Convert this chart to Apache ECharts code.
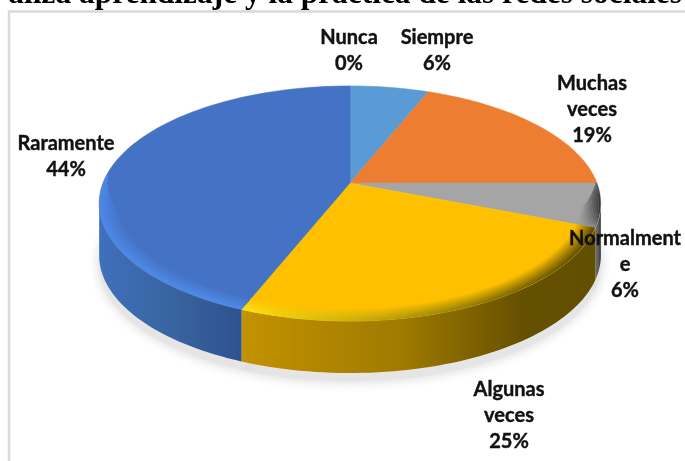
<!DOCTYPE html>
<html>
<head>
<meta charset="utf-8">
<style>
html,body{margin:0;padding:0;background:#fff}
#main{width:685px;height:461px}
</style>
<script src="https://cdn.jsdelivr.net/npm/echarts@6/dist/echarts.min.js"></script>
</head>
<body>
<div id="main"></div>
<script>
var categories = ['Nunca', 'Siempre', 'Muchas\nveces', 'Normalment\ne', 'Algunas\nveces', 'Raramente'];
var values = [0, 6, 19, 6, 25, 44];

var faceColors = ['#5b9bd5', '#5b9bd5', '#ed7d31', '#a5a5a5', '#ffc000', '#4472c4'];
// wall shading, left to right
var wallStops = [
    [[0, '#5b9bd5'], [1, '#5b9bd5']],
    [[0, '#5b9bd5'], [1, '#5b9bd5']],
    [[0, '#ed7d31'], [1, '#ed7d31']],
    [[0, '#6e6e6e'], [0.6, '#5a5a5a'], [1, '#2e2e2e']],
    [[0, '#c29200'], [0.45, '#a07a00'], [0.8, '#655000'], [1, '#615000']],
    [[0, '#3f70bd'], [0.5, '#38649f'], [1, '#2f528f']]
];
// colour of the bevel on the edge of the top face, left and right end
var bevelColors = [
    ['#5b9bd5', '#5b9bd5'],
    ['#5b9bd5', '#5b9bd5'],
    ['#ed7d31', '#ed7d31'],
    ['#8a8a8a', '#3a3a3a'],
    ['#ffdf10', '#5f4b00'],
    ['#4d88e6', '#4f88e4']
];
var labelCenters = [[349, 51], [437, 51], [592, 110], [625, 265], [509, 416], [66, 157]];

// pie geometry: a circle seen in perspective
var apexX = 350, apexY = 183, radiusX = 247, radiusY = 114, persp = 0.174, depth = 52;
var wallFrom = 100, wallTo = 260;
var bevelSteps = 10;

var total = values.reduce(function (a, b) { return a + b }, 0);
var starts = [];
values.reduce(function (sum, v, i) { starts[i] = sum; return sum + v }, 0);
var seriesData = values.map(function (v, i) { return [starts[i], v, i] });

function project(deg, r, dy) {
    var a = deg * Math.PI / 180;
    var u = Math.sin(a) * r, v = Math.cos(a) * r;
    var d = 1 + persp * v;
    return [apexX + radiusX * u / d, apexY - radiusY * v / d + (dy || 0)];
}
function arc(from, to, r, dy) {
    var pts = [];
    var n = Math.max(2, Math.ceil((to - from) / 1.5));
    for (var i = 0; i <= n; i++) {
        pts.push(project(from + (to - from) * i / n, r, dy));
    }
    return pts;
}
function angles(api) {
    var from = api.value(0) / total * 360;
    return [from, from + api.value(1) / total * 360];
}
function mix(c1, c2, t) {
    var a = parseInt(c1.slice(1), 16), b = parseInt(c2.slice(1), 16);
    var out = [16, 8, 0].map(function (s) {
        return Math.round(((a >> s) & 255) * (1 - t) + ((b >> s) & 255) * t);
    });
    return 'rgb(' + out.join(',') + ')';
}
function xRange(pts) {
    var xs = pts.map(function (p) { return p[0] });
    return [Math.min.apply(null, xs), Math.max.apply(null, xs)];
}

function renderShadow(params, api) {
    var from = angles(api);
    if (from[1] <= from[0]) return null;
    return {
        type: 'polygon',
        shape: {points: arc(from[0], from[1], 1, depth + 8).concat([[apexX, apexY + depth + 8]])},
        style: {fill: '#e6e6e6', stroke: '#e6e6e6', lineWidth: 1, shadowBlur: 12, shadowColor: '#d8d8d8'}
    };
}

function renderWall(params, api) {
    var ang = angles(api);
    var from = Math.max(ang[0], wallFrom), to = Math.min(ang[1], wallTo);
    if (to <= from) return null;
    var i = api.value(2);
    var top = arc(from, to, 1, 0);
    var bottom = arc(from, to, 1, depth).reverse();
    var range = xRange(top);
    return {
        type: 'polygon',
        shape: {points: top.concat(bottom)},
        style: {
            fill: new echarts.graphic.LinearGradient(range[0], 0, range[1], 0,
                wallStops[i].map(function (s) { return {offset: s[0], color: s[1]} }), true)
        }
    };
}

function renderFace(params, api) {
    var ang = angles(api);
    if (ang[1] <= ang[0]) return null;
    var i = api.value(2);
    return {
        type: 'polygon',
        shape: {points: [[apexX, apexY]].concat(arc(ang[0], ang[1], 1, 0))},
        style: {fill: faceColors[i], stroke: faceColors[i], lineWidth: 0.5}
    };
}

function renderBevel(params, api) {
    var ang = angles(api);
    var i = api.value(2);
    var children = [];
    for (var k = 0; k < bevelSteps; k++) {
        var t = (k + 1) / bevelSteps;
        var r = 0.925 + 0.07 * t;
        // inner rings stop sooner at both ends so the band tapers off
        var from = Math.max(ang[0], 104 - 14 * t), to = Math.min(ang[1], 252 + 22 * t);
        if (to <= from) continue;
        var pts = arc(from, to, r, 0);
        var range = xRange(pts);
        children.push({
            type: 'polyline',
            shape: {points: pts},
            style: {
                fill: null,
                lineWidth: 2.2,
                stroke: new echarts.graphic.LinearGradient(range[0], 0, range[1], 0, [
                    {offset: 0, color: mix(faceColors[i], bevelColors[i][0], t)},
                    {offset: 1, color: mix(faceColors[i], bevelColors[i][1], t)}
                ], true)
            }
        });
    }
    return {type: 'group', children: children};
}

function renderLabel(params, api) {
    var i = api.value(2);
    var c = labelCenters[i];
    return {
        type: 'text',
        x: c[0],
        y: c[1],
        style: {
            text: categories[i] + '\n' + api.value(1) + '%',
            fill: '#111111',
            stroke: '#111111',
            lineWidth: 0.4,
            font: 'bold 20px Lato, Carlito, sans-serif',
            lineHeight: 26,
            align: 'center',
            verticalAlign: 'middle'
        }
    };
}

function customSeries(fn, z) {
    return {type: 'custom', coordinateSystem: 'none', renderItem: fn, data: seriesData, z: z, silent: true, animation: false};
}

var chart = echarts.init(document.getElementById('main'), null, {renderer: 'canvas'});
chart.setOption({
    animation: false,
    backgroundColor: '#ffffff',
    title: {
        text: 'aliza aprendizaje y la práctica de las redes sociales',
        right: 3,
        top: -21,
        padding: 0,
        textStyle: {fontFamily: '"Liberation Serif", serif', fontWeight: 'bold', fontSize: 31.4, color: '#000000'}
    },
    graphic: [{
        type: 'polyline',
        shape: {points: [[9, 461], [9, 11.5], [685, 11.5]]},
        style: {fill: null, stroke: '#d9d9d9', lineWidth: 2.5},
        silent: true
    }],
    series: [
        customSeries(renderShadow, 1),
        customSeries(renderWall, 2),
        customSeries(renderFace, 3),
        customSeries(renderBevel, 4),
        customSeries(renderLabel, 5)
    ]
});
</script>
</body>
</html>
